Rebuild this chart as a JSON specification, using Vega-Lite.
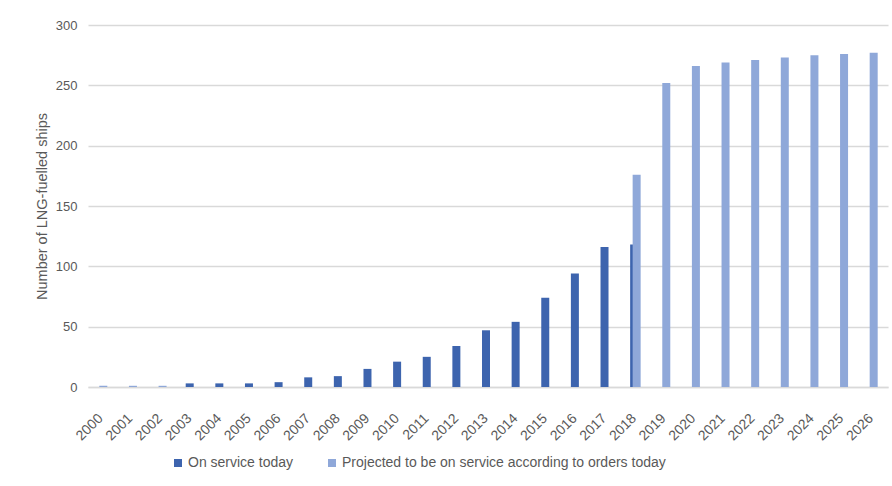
{
  "$schema": "https://vega.github.io/schema/vega-lite/v6.json",
  "width": 800,
  "height": 362,
  "autosize": {"type": "none"},
  "padding": {"left": 88, "top": 25, "right": 4, "bottom": 99},
  "background": "white",
  "config": {
    "view": {"stroke": null},
    "font": "Liberation Sans",
    "axis": {"labelColor": "#595959", "titleColor": "#595959", "labelFontSize": 13, "titleFontSize": 14.5, "titleFontWeight": "normal"}
  },
  "data": {
    "values": [
      {"year": "2003", "series": "On service today", "ships": 3},
      {"year": "2004", "series": "On service today", "ships": 3},
      {"year": "2005", "series": "On service today", "ships": 3},
      {"year": "2006", "series": "On service today", "ships": 4},
      {"year": "2007", "series": "On service today", "ships": 8},
      {"year": "2008", "series": "On service today", "ships": 9},
      {"year": "2009", "series": "On service today", "ships": 15},
      {"year": "2010", "series": "On service today", "ships": 21},
      {"year": "2011", "series": "On service today", "ships": 25},
      {"year": "2012", "series": "On service today", "ships": 34},
      {"year": "2013", "series": "On service today", "ships": 47},
      {"year": "2014", "series": "On service today", "ships": 54},
      {"year": "2015", "series": "On service today", "ships": 74},
      {"year": "2016", "series": "On service today", "ships": 94},
      {"year": "2017", "series": "On service today", "ships": 116},
      {"year": "2018", "series": "On service today", "ships": 118},
      {"year": "2000", "series": "Projected to be on service according to orders today", "ships": 1},
      {"year": "2001", "series": "Projected to be on service according to orders today", "ships": 1},
      {"year": "2002", "series": "Projected to be on service according to orders today", "ships": 1},
      {"year": "2018", "series": "Projected to be on service according to orders today", "ships": 176},
      {"year": "2019", "series": "Projected to be on service according to orders today", "ships": 252},
      {"year": "2020", "series": "Projected to be on service according to orders today", "ships": 266},
      {"year": "2021", "series": "Projected to be on service according to orders today", "ships": 269},
      {"year": "2022", "series": "Projected to be on service according to orders today", "ships": 271},
      {"year": "2023", "series": "Projected to be on service according to orders today", "ships": 273},
      {"year": "2024", "series": "Projected to be on service according to orders today", "ships": 275},
      {"year": "2025", "series": "Projected to be on service according to orders today", "ships": 276},
      {"year": "2026", "series": "Projected to be on service according to orders today", "ships": 277}
    ]
  },
  "encoding": {
    "x": {
      "field": "year",
      "type": "ordinal",
      "scale": {"domain": ["2000","2001","2002","2003","2004","2005","2006","2007","2008","2009","2010","2011","2012","2013","2014","2015","2016","2017","2018","2019","2020","2021","2022","2023","2024","2025","2026"], "paddingInner": 0, "paddingOuter": 0},
      "axis": {"title": null, "labelAngle": -45, "labelAlign": "right", "labelBaseline": "middle", "labelFontSize": 14, "labelPadding": 29, "labelOffset": -2, "ticks": false, "domainColor": "#d9d9d9", "domainWidth": 1.5, "grid": false}
    },
    "y": {
      "field": "ships",
      "type": "quantitative",
      "scale": {"domain": [0, 300]},
      "axis": {"title": "Number of LNG-fuelled ships", "values": [0, 50, 100, 150, 200, 250, 300], "domain": false, "ticks": false, "gridColor": "#d9d9d9", "gridWidth": 1.3, "labelPadding": 11, "titlePadding": 6}
    },
    "color": {
      "field": "series",
      "type": "nominal",
      "scale": {"domain": ["On service today", "Projected to be on service according to orders today"], "range": ["#3d64ae", "#8fa8d9"]},
      "legend": {"title": null, "orient": "none", "legendX": 83, "legendY": 431, "direction": "horizontal", "symbolType": "square", "symbolSize": 64, "labelFontSize": 14, "labelColor": "#595959", "labelOffset": 3, "labelLimit": 0, "columnPadding": 31, "padding": 0, "symbolStrokeWidth": 0}
    }
  },
  "layer": [
    {
      "transform": [{"filter": "datum.series === 'On service today'"}],
      "mark": {"type": "bar", "width": 8, "xOffset": -2}
    },
    {
      "transform": [{"filter": "datum.series !== 'On service today'"}],
      "mark": {"type": "bar", "width": 8, "xOffset": 0.5}
    }
  ]
}
